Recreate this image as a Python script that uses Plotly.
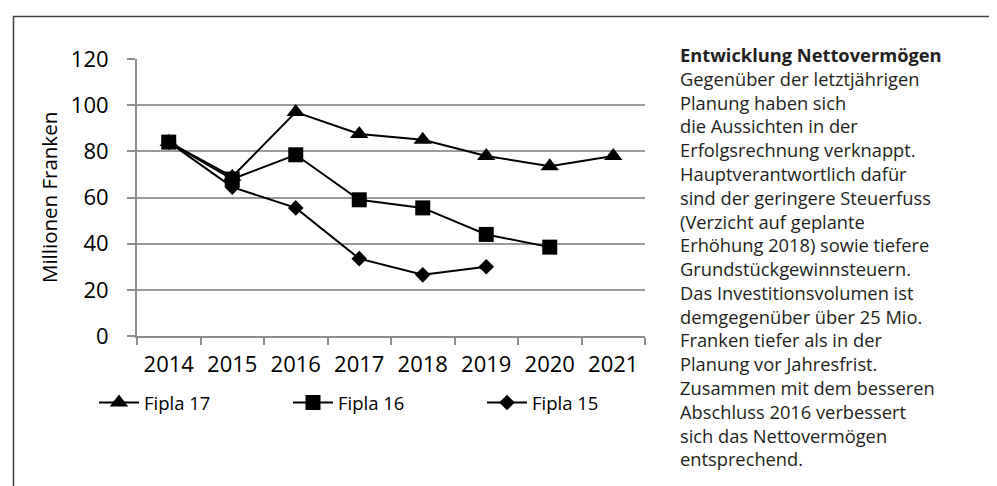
import plotly.graph_objects as go

years = ["2014", "2015", "2016", "2017", "2018", "2019", "2020", "2021"]
fipla17 = [84, 69, 97, 87.5, 85, 78, 73.5, 78]
fipla16 = [84, 68, 78.5, 59, 55.5, 44, 38.5]
fipla15 = [84, 64.5, 55.5, 33.5, 26.5, 30]
y_ticks = [0, 20, 40, 60, 80, 100, 120]

text_lines = [
    "<b>Entwicklung Nettovermögen</b>",
    "Gegenüber der letztjährigen",
    "Planung haben sich",
    "die Aussichten in der",
    "Erfolgsrechnung verknappt.",
    "Hauptverantwortlich dafür",
    "sind der geringere Steuerfuss",
    "(Verzicht auf geplante",
    "Erhöhung 2018) sowie tiefere",
    "Grundstückgewinnsteuern.",
    "Das Investitionsvolumen ist",
    "demgegenüber über 25 Mio.",
    "Franken tiefer als in der",
    "Planung vor Jahresfrist.",
    "Zusammen mit dem besseren",
    "Abschluss 2016 verbessert",
    "sich das Nettovermögen",
    "entsprechend.",
]

FONT = "Open Sans"
W, H = 997, 486
L, R, T, B = 129, 360, 51, 158
pw, ph = W - L - R, H - T - B


def px(x):
    return (x - L) / pw


def py(y):
    return (H - B - y) / ph


fig = go.Figure()

fig.add_trace(go.Scatter(
    x=years[:len(fipla17)], y=fipla17, name="Fipla 17", mode="lines+markers",
    line=dict(color="black", width=2),
    marker=dict(symbol="triangle-up", size=16, color="black"),
))
fig.add_trace(go.Scatter(
    x=years[:len(fipla16)], y=fipla16, name="Fipla 16", mode="lines+markers",
    line=dict(color="black", width=2),
    marker=dict(symbol="square", size=15, color="black"),
))
fig.add_trace(go.Scatter(
    x=years[:len(fipla15)], y=fipla15, name="Fipla 15", mode="lines+markers",
    line=dict(color="black", width=2),
    marker=dict(symbol="diamond", size=12, color="black"),
))

fig.update_layout(
    width=W, height=H,
    margin=dict(l=L, r=R, t=T, b=B),
    paper_bgcolor="white", plot_bgcolor="white",
    font=dict(family=FONT, color="black"),
    showlegend=True,
    legend=dict(
        orientation="h", x=px(86), y=py(395), xanchor="left", yanchor="middle",
        font=dict(size=18.5, family=FONT, color="black"),
        itemwidth=40,
        entrywidth=139, entrywidthmode="pixels",
        itemclick=False, itemdoubleclick=False,
    ),
    xaxis=dict(
        type="category", range=[-0.5, 7.5], tickson="boundaries",
        showgrid=False, showline=True, linecolor="#8c8c8c", linewidth=2,
        ticks="outside", ticklen=7, tickwidth=2, tickcolor="#8c8c8c",
        tickfont=dict(size=22, family=FONT, color="black"),
        ticklabelstandoff=8,
    ),
    yaxis=dict(
        range=[0, 120], tickvals=y_ticks, showgrid=True,
        gridcolor="#9a9a9a", gridwidth=2, zeroline=False,
        showline=True, linecolor="#8c8c8c", linewidth=2,
        ticks="outside", ticklen=8, tickwidth=2, tickcolor="#8c8c8c",
        tickfont=dict(size=22, family=FONT, color="black"),
        ticklabelstandoff=14,
    ),
    shapes=[dict(
        type="rect", xref="paper", yref="paper",
        x0=px(5.5), x1=px(1010), y0=py(500), y1=py(8.5),
        line=dict(color="#404040", width=1.5), layer="below",
    )],
    annotations=[
        dict(
            text="Millionen Franken", xref="paper", yref="paper",
            x=px(41), y=py(190), xanchor="center", yanchor="middle",
            textangle=-90, showarrow=False,
            font=dict(size=20.5, family=FONT, color="black"),
        ),
        dict(
            text="<br>".join(text_lines), xref="paper", yref="paper",
            x=px(670), y=py(32), xanchor="left", yanchor="top", align="left",
            showarrow=False,
            font=dict(size=18.3, family=FONT, color="#231f20"),
        ),
    ],
)

fig.write_html("out.html")
